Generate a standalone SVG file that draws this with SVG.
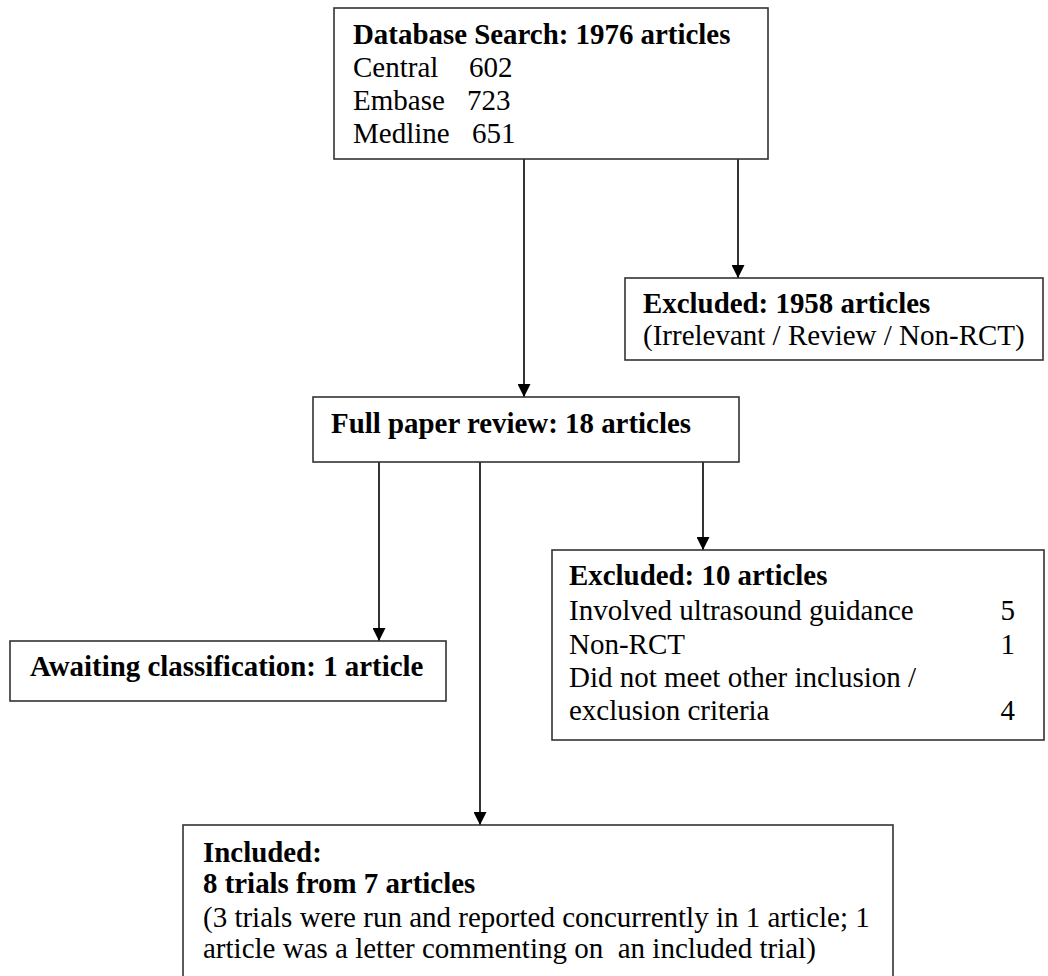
<svg xmlns="http://www.w3.org/2000/svg" width="1048" height="976" viewBox="0 0 1048 976">
<style>
.box{fill:#fff;stroke:#333;stroke-width:1.6}
.t{font-family:'Liberation Serif','Times New Roman',Tinos,'DejaVu Serif',serif;font-size:29px;font-weight:400;fill:#000;white-space:pre}
.b{font-weight:700;font-size:28.9px}
.conn line{stroke:#000;stroke-width:1.6}
</style>
<defs>
<marker id="ah" markerUnits="userSpaceOnUse" markerWidth="13" markerHeight="13" viewBox="0 0 13 13" refX="13" refY="6.5" orient="auto">
<path d="M0,0 L13,6.5 L0,13 z" fill="#000"/>
</marker>
</defs>
<rect width="1048" height="976" fill="#fff"/>
<g class="conn">
<line x1="524" y1="159" x2="524" y2="397" marker-end="url(#ah)"/>
<line x1="738" y1="159" x2="738" y2="278" marker-end="url(#ah)"/>
<line x1="379" y1="462" x2="379" y2="641" marker-end="url(#ah)"/>
<line x1="480" y1="462" x2="480" y2="825" marker-end="url(#ah)"/>
<line x1="703" y1="462" x2="703" y2="550" marker-end="url(#ah)"/>
</g>
<g id="search">
<rect class="box" x="334" y="8" width="434" height="151"/>
<text class="t b" x="353" y="44">Database Search: 1976 articles</text>
<text class="t" x="353" y="77">Central</text><text class="t" x="469" y="77">602</text>
<text class="t" x="353" y="110">Embase</text><text class="t" x="467" y="110">723</text>
<text class="t" x="353" y="143">Medline</text><text class="t" x="472" y="143">651</text>
</g>
<g id="excluded1">
<rect class="box" x="625" y="278" width="418" height="82"/>
<text class="t b" x="643" y="313">Excluded: 1958 articles</text>
<text class="t" x="643" y="345">(Irrelevant / Review / Non-RCT)</text>
</g>
<g id="fullpaper">
<rect class="box" x="313" y="397" width="426" height="65"/>
<text class="t b" x="331" y="433">Full paper review: 18 articles</text>
</g>
<g id="excluded2">
<rect class="box" x="552" y="550" width="492" height="190"/>
<text class="t b" x="569" y="585">Excluded: 10 articles</text>
<text class="t" x="569" y="620">Involved ultrasound guidance</text>
<text class="t" x="1015" y="620" text-anchor="end">5</text>
<text class="t" x="569" y="654">Non-RCT</text>
<text class="t" x="1015" y="654" text-anchor="end">1</text>
<text class="t" x="569" y="687">Did not meet other inclusion /</text>
<text class="t" x="569" y="720">exclusion criteria</text>
<text class="t" x="1015" y="720" text-anchor="end">4</text>
</g>
<g id="awaiting">
<rect class="box" x="10" y="641" width="436" height="60"/>
<text class="t b" x="30" y="676">Awaiting classification: 1 article</text>
</g>
<g id="included">
<rect class="box" x="183" y="825" width="710" height="170"/>
<text class="t b" x="203" y="862">Included:</text>
<text class="t b" x="203" y="893">8 trials from 7 articles</text>
<text class="t" x="203" y="927">(3 trials were run and reported concurrently in 1 article; 1</text>
<text class="t" x="203" y="958">article was a letter commenting on  an included trial)</text>
</g>
</svg>
